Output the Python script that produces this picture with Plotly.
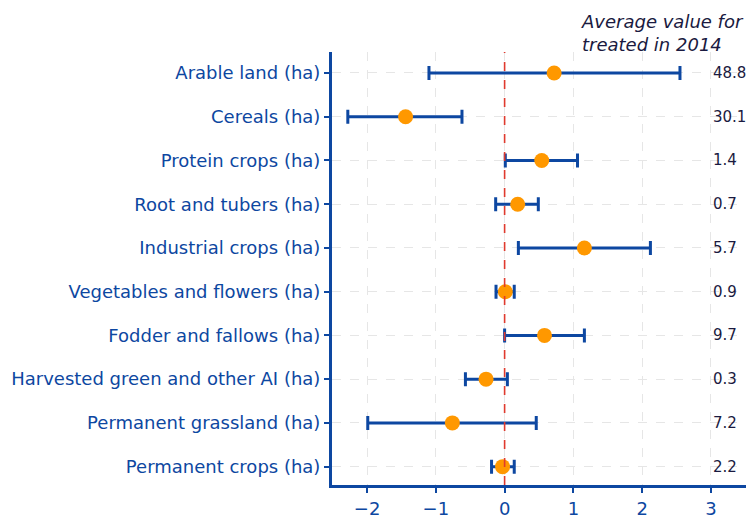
import plotly.graph_objects as go

# Outcome variables, listed top to bottom
categories = [
    "Arable land (ha)",
    "Cereals (ha)",
    "Protein crops (ha)",
    "Root and tubers (ha)",
    "Industrial crops (ha)",
    "Vegetables and flowers (ha)",
    "Fodder and fallows (ha)",
    "Harvested green and other AI (ha)",
    "Permanent grassland (ha)",
    "Permanent crops (ha)",
]
# Point estimates and confidence bounds
estimate = [0.72, -1.44, 0.54, 0.19, 1.16, 0.01, 0.58, -0.27, -0.76, -0.03]
ci_low = [-1.10, -2.28, 0.01, -0.13, 0.20, -0.125, 0.00, -0.57, -1.99, -0.19]
ci_high = [2.55, -0.62, 1.06, 0.49, 2.12, 0.14, 1.16, 0.04, 0.46, 0.14]
# Average value for treated units in 2014
avg_treated = ["48.8", "30.1", "1.4", "0.7", "5.7", "0.9", "9.7", "0.3", "7.2", "2.2"]

BLUE = "#0d47a1"
ORANGE = "#ff9800"
NAVY = "#1a1a40"
FONT = "DejaVu Sans"

n = len(categories)
ypos = [n - 1 - i for i in range(n)]

fig = go.Figure()
fig.add_trace(go.Scatter(
    x=estimate,
    y=ypos,
    mode="markers",
    marker=dict(color=ORANGE, size=15, line=dict(width=0)),
    error_x=dict(
        type="data",
        symmetric=False,
        array=[h - e for h, e in zip(ci_high, estimate)],
        arrayminus=[e - l for e, l in zip(estimate, ci_low)],
        color=BLUE,
        thickness=3,
        width=7,
    ),
    showlegend=False,
))

# Reference line at zero effect
fig.add_shape(type="line", xref="x", yref="paper", x0=0, x1=0, y0=0, y1=1,
              line=dict(color="#e03a2e", width=1.6, dash="dash"), layer="above")

# Average values printed on the right
for y, txt in zip(ypos, avg_treated):
    fig.add_annotation(x=3, y=y, xref="x", yref="y", text=txt, showarrow=False,
                       xanchor="left", yanchor="middle",
                       font=dict(family=FONT, size=15, color=NAVY))

fig.add_annotation(x=1.08, y=1, xref="x", yref="paper",
                   text="<i>Average value for<br>treated in 2014</i>",
                   showarrow=False, xanchor="left", yanchor="bottom", align="left",
                   yshift=-5, font=dict(family=FONT, size=18, color=NAVY))

fig.update_xaxes(
    range=[-2.51, 3.51],
    tickvals=[-2, -1, 0, 1, 2, 3],
    ticktext=["\u22122", "\u22121", "0", "1", "2", "3"],
    showline=True, linecolor=BLUE, linewidth=3,
    ticks="outside", ticklen=5, tickwidth=1.5, tickcolor=BLUE,
    tickfont=dict(family=FONT, size=18, color=BLUE),
    showgrid=True, gridcolor="#e6e6e6", griddash="dash", gridwidth=1,
    zeroline=False,
)
fig.update_yaxes(
    range=[-0.42, 9.48],
    tickvals=ypos,
    ticktext=categories,
    showline=True, linecolor=BLUE, linewidth=3,
    ticks="outside", ticklen=5, tickwidth=1.5, tickcolor=BLUE,
    tickfont=dict(family=FONT, size=18, color=BLUE),
    showgrid=True, gridcolor="#e6e6e6", griddash="dash", gridwidth=1,
    zeroline=False,
)

fig.update_layout(
    width=748, height=521,
    margin=dict(l=332, r=2, t=52, b=33),
    plot_bgcolor="white", paper_bgcolor="white",
    font=dict(family=FONT),
)

fig.write_html("out.html")
